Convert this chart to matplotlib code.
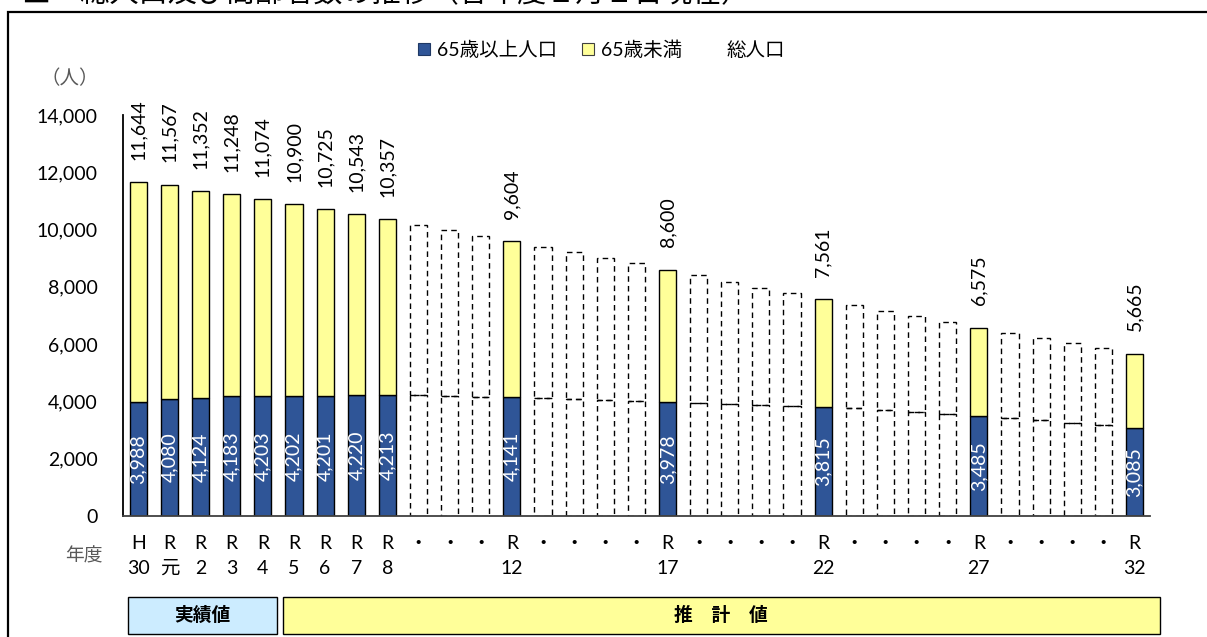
import matplotlib
matplotlib.use("Agg")
import matplotlib.pyplot as plt
from matplotlib.patches import Rectangle, Patch
from matplotlib.lines import Line2D

plt.rcParams['font.family'] = ['Lato', 'Noto Sans CJK JP', 'DejaVu Sans']

# 年度 (H30 .. R32)
era = ['H', 'R', 'R', 'R', 'R', 'R', 'R', 'R', 'R',
       '・', '・', '・', 'R', '・', '・', '・', '・', 'R',
       '・', '・', '・', '・', 'R', '・', '・', '・', '・', 'R',
       '・', '・', '・', '・', 'R']
year = ['30', '元', '2', '3', '4', '5', '6', '7', '8',
        '', '', '', '12', '', '', '', '', '17',
        '', '', '', '', '22', '', '', '', '', '27',
        '', '', '', '', '32']

# 65歳以上人口 / 総人口
elderly = [3988, 4080, 4124, 4183, 4203, 4202, 4201, 4220, 4213,
           4225, 4190, 4166, 4141, 4131, 4085, 4050, 4027, 3978,
           3957, 3911, 3887, 3852, 3815, 3782, 3701, 3631, 3561, 3485,
           3433, 3341, 3258, 3177, 3085]
total = [11644, 11567, 11352, 11248, 11074, 10900, 10725, 10543, 10357,
         10160, 9986, 9787, 9604, 9404, 9206, 9020, 8823, 8600,
         8404, 8181, 7972, 7775, 7561, 7367, 7169, 6983, 6774, 6575,
         6400, 6226, 6052, 5855, 5665]
# 数値を表示する年度
shown = [0, 1, 2, 3, 4, 5, 6, 7, 8, 12, 17, 22, 27, 32]

BLUE = '#2F5597'
YELLOW = '#FFFF99'
FS = 14

fig = plt.figure(figsize=(12.07, 6.37), dpi=100)
ax = fig.add_axes([0.1017, 0.19, 0.8511, 0.6295])

x = list(range(len(total)))
under = [t - e for t, e in zip(total, elderly)]
w = 0.55
for i in x:
    if i in shown:
        ax.bar(i, elderly[i], w, color=BLUE, edgecolor='black', linewidth=1)
        ax.bar(i, under[i], w, bottom=elderly[i], color=YELLOW,
               edgecolor='black', linewidth=1)
        ax.annotate(f'{total[i]:,}', (i, total[i]), xytext=(0, 16),
                    textcoords='offset points', rotation=90,
                    ha='center', va='bottom', fontsize=FS)
        ax.text(i, elderly[i] / 2, f'{elderly[i]:,}', rotation=90,
                ha='center', va='center', color='white', fontsize=FS)
    else:
        ax.bar(i, elderly[i], w, fill=False, edgecolor='black',
               linewidth=1, linestyle=(0, (4, 3)))
        ax.bar(i, under[i], w, bottom=elderly[i], fill=False,
               edgecolor='black', linewidth=1, linestyle=(0, (4, 3)))

ax.set_xlim(-0.5, 32.5)
ax.set_ylim(0, 14000)
ax.set_yticks(range(0, 14001, 2000))
ax.set_yticklabels([f'{v:,}' for v in range(0, 14001, 2000)], fontsize=FS)
ax.set_xticks(x)
ax.set_xticklabels([f'{a}\n{b}' for a, b in zip(era, year)], fontsize=FS,
                   linespacing=1.55)
ax.tick_params(axis='y', length=0, pad=18)
ax.tick_params(axis='x', length=0, pad=14)
for s in ['top', 'right']:
    ax.spines[s].set_visible(False)
ax.spines['left'].set_linewidth(1.3)
ax.spines['bottom'].set_linewidth(1.3)
ax.spines['bottom'].set_color('#404040')

handles = [Patch(facecolor=BLUE, edgecolor='#1F3864', linewidth=0.8),
           Patch(facecolor=YELLOW, edgecolor='#404040', linewidth=0.8),
           Line2D([], [], linestyle='none')]
fig.legend(handles, ['65歳以上人口', '65歳未満', '総人口'], ncol=3,
           loc='center', bbox_to_anchor=(0.498, 0.922), frameon=False,
           fontsize=FS, handlelength=0.62, handleheight=0.62,
           handletextpad=0.35, columnspacing=1.3)

fig.text(0.058, 0.877, '（人）', color='#595959', fontsize=FS,
         ha='center', va='center')
fig.text(0.0695, 0.128, '年度', color='#595959', fontsize=13.5,
         ha='center', va='center')

# 実績値・推計値の帯
fig.add_artist(Rectangle((128 / 1207, 1 - 634 / 637), 149 / 1207, 37 / 637,
                         transform=fig.transFigure, facecolor='#CCECFF',
                         edgecolor='black', linewidth=1))
fig.add_artist(Rectangle((283 / 1207, 1 - 634 / 637), 877 / 1207, 37 / 637,
                         transform=fig.transFigure, facecolor=YELLOW,
                         edgecolor='black', linewidth=1))
fig.text(202 / 1207, 1 - 615 / 637, '実績値', fontsize=13.5, fontweight='bold',
         ha='center', va='center', family=['Noto Sans CJK JP'])
fig.text(721 / 1207, 1 - 615 / 637, '推　計　値', fontsize=13.5, fontweight='bold',
         ha='center', va='center', family=['Noto Sans CJK JP'])

# 外枠とタイトル
fig.add_artist(Rectangle((8 / 1207, -0.1), 1.2, 1.1 - 12 / 637,
                         transform=fig.transFigure, fill=False,
                         edgecolor='black', linewidth=1.6))
fig.text(22 / 1207, 1 + 6 / 637, '■　総人口及び高齢者数の推移（各年度１月１日現在）',
         fontsize=21, ha='left', va='center', family=['Noto Sans CJK JP'])

fig.savefig('out.png', dpi=100)
